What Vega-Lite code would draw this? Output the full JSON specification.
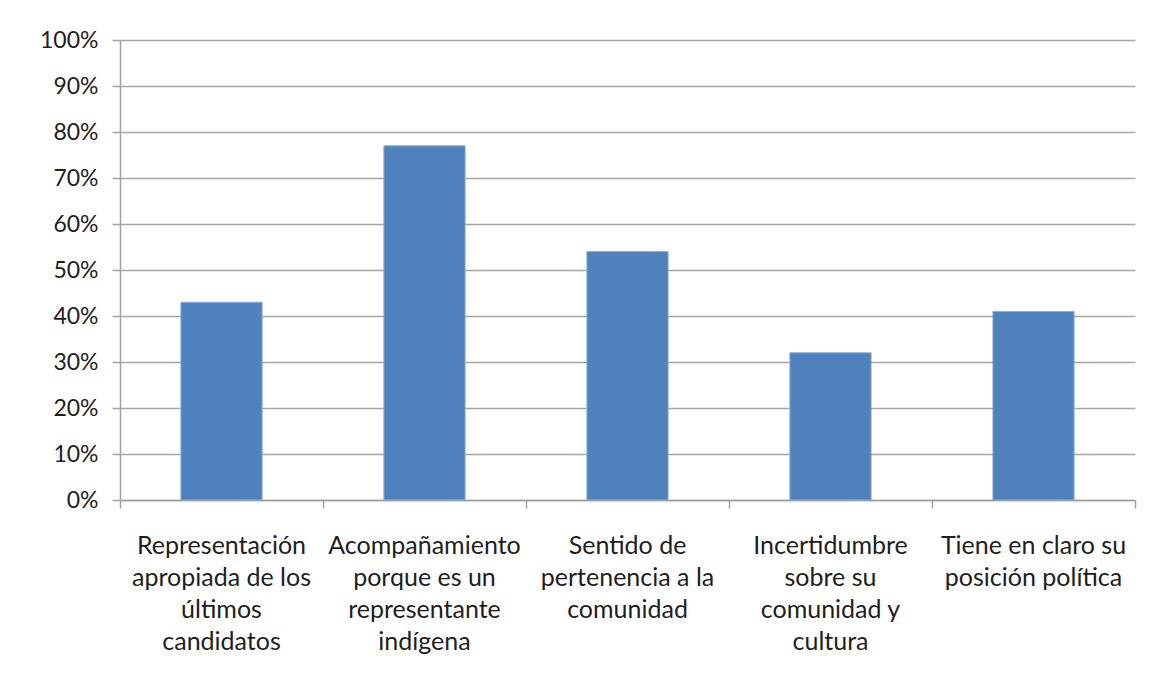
{
  "$schema": "https://vega.github.io/schema/vega-lite/v6.json",
  "width": 1015,
  "height": 460,
  "autosize": {"type": "none"},
  "padding": {"left": 120, "top": 40, "right": 16, "bottom": 179},
  "background": "white",
  "config": {
    "view": {"stroke": null},
    "font": "Lato",
    "axis": {"labelFont": "Lato", "labelColor": "#1e1e1e", "domainColor": "#a0a0a0", "tickColor": "#a0a0a0", "gridColor": "#a6a6a6", "domainWidth": 1.5, "tickWidth": 1.5, "gridWidth": 1.5}
  },
  "data": {
    "values": [
      {"categoria": "Representación apropiada de los últimos candidatos", "porcentaje": 0.43},
      {"categoria": "Acompañamiento porque es un representante indígena", "porcentaje": 0.77},
      {"categoria": "Sentido de pertenencia a la comunidad", "porcentaje": 0.54},
      {"categoria": "Incertidumbre sobre su comunidad y cultura", "porcentaje": 0.32},
      {"categoria": "Tiene en claro su posición política", "porcentaje": 0.41}
    ]
  },
  "layer": [
    {
      "mark": {"type": "bar", "opacity": 0, "width": {"band": 0.4}},
      "encoding": {
        "x": {
          "field": "categoria",
          "type": "nominal",
          "sort": null,
          "scale": {"paddingInner": 0, "paddingOuter": 0},
          "axis": {"title": null, "orient": "bottom", "labels": false, "domain": true, "ticks": true, "tickSize": 8, "tickBand": "extent"}
        },
        "y": {
          "field": "porcentaje",
          "type": "quantitative",
          "scale": {"domain": [0, 1], "nice": false},
          "axis": {
            "title": null,
            "format": ".0%",
            "values": [0, 0.1, 0.2, 0.3, 0.4, 0.5, 0.6, 0.7, 0.8, 0.9, 1],
            "labelFontSize": 23,
            "labelPadding": 14,
            "tickSize": 8,
            "grid": true
          }
        }
      }
    },
    {
      "mark": {"type": "bar", "color": "#4F81BD", "stroke": "#8eaad6", "strokeWidth": 1, "width": {"band": 0.4}},
      "encoding": {
        "x": {
          "field": "categoria",
          "type": "nominal",
          "sort": null,
          "axis": {
            "title": null,
            "orient": "bottom",
            "domain": false,
            "ticks": false,
            "labelAngle": 0,
            "labelFontSize": 25,
            "labelLineHeight": 32,
            "labelPadding": 33,
            "labelLimit": 0,
            "labelBaseline": "top",
            "labelExpr": "datum.value == 'Representación apropiada de los últimos candidatos' ? ['Representación','apropiada de los','últimos','candidatos'] : datum.value == 'Acompañamiento porque es un representante indígena' ? ['Acompañamiento','porque es un','representante','indígena'] : datum.value == 'Sentido de pertenencia a la comunidad' ? ['Sentido de','pertenencia a la','comunidad'] : datum.value == 'Incertidumbre sobre su comunidad y cultura' ? ['Incertidumbre','sobre su','comunidad y','cultura'] : ['Tiene en claro su','posición política']"
          }
        },
        "y": {"field": "porcentaje", "type": "quantitative"}
      }
    }
  ],
  "resolve": {"axis": {"x": "independent"}}
}
